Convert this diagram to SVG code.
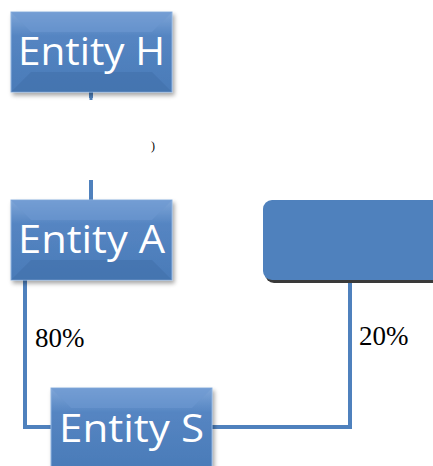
<svg xmlns="http://www.w3.org/2000/svg" width="433" height="466" viewBox="0 0 433 466">
<defs>
<linearGradient id="bev" x1="0" y1="0" x2="0" y2="1">
<stop offset="0" stop-color="#7fa6d8"/>
<stop offset="0.3" stop-color="#5585c2"/>
<stop offset="1" stop-color="#4a7bb8"/>
</linearGradient>
<filter id="sh" x="-10%" y="-10%" width="130%" height="130%">
<feDropShadow dx="2" dy="3" stdDeviation="2" flood-color="#000" flood-opacity="0.35"/>
</filter>
<style>
.ent rect.b{fill:url(#bev);stroke:#8fb3df;stroke-width:1;filter:url(#sh)}
.ent polygon.l{fill:#6d98d0;opacity:0.6}
.ent polygon.d{fill:#3f6ea8;opacity:0.5}
.ent text{fill:#fff;font-family:"Open Sans","DejaVu Sans",sans-serif;font-size:38px}
.conn{fill:none;stroke:#4f81bd;stroke-width:4}
.lbl{font-family:"Liberation Serif",serif;font-size:27px;fill:#000}
</style>
</defs>
<g id="connectors">
<line class="conn" x1="91" y1="92" x2="91" y2="200"/>
<polyline class="conn" points="25,280 25,427 52,427"/>
<polyline class="conn" points="212,427 350,427 350,282"/>
</g>
<rect x="87" y="98" width="67" height="82" fill="#fff"/>
<rect x="89.5" y="96" width="3" height="4" fill="#4f81bd"/>
<text x="151" y="150" font-family="Liberation Serif,serif" font-size="12" fill="#000">)</text>
<g id="entity-h" class="ent">
<rect class="b" x="11" y="12" width="161" height="80"/>
<polygon class="l" points="11,12 172,12 152,32 31,32"/>
<polygon class="d" points="11,92 172,92 152,72 31,72"/>
<text x="91.5" y="65" text-anchor="middle" textLength="147" lengthAdjust="spacingAndGlyphs">Entity H</text>
</g>
<g id="entity-a" class="ent">
<rect class="b" x="11" y="200" width="161" height="80"/>
<polygon class="l" points="11,200 172,200 152,220 31,220"/>
<polygon class="d" points="11,280 172,280 152,260 31,260"/>
<text x="91.5" y="253" text-anchor="middle" textLength="147" lengthAdjust="spacingAndGlyphs">Entity A</text>
</g>
<g id="entity-blank">
<rect x="265" y="203" width="180" height="80" rx="9" fill="#3a3a3a"/>
<rect x="263" y="200" width="180" height="80" rx="9" fill="#4f81bd"/>
</g>
<g id="entity-s" class="ent">
<rect class="b" x="51" y="388" width="161" height="82"/>
<polygon class="l" points="51,388 212,388 192,408 71,408"/>
<text x="131.5" y="442" text-anchor="middle" textLength="145" lengthAdjust="spacingAndGlyphs">Entity S</text>
</g>
<text class="lbl" x="35" y="347">80%</text>
<text class="lbl" x="359" y="345">20%</text>
</svg>
